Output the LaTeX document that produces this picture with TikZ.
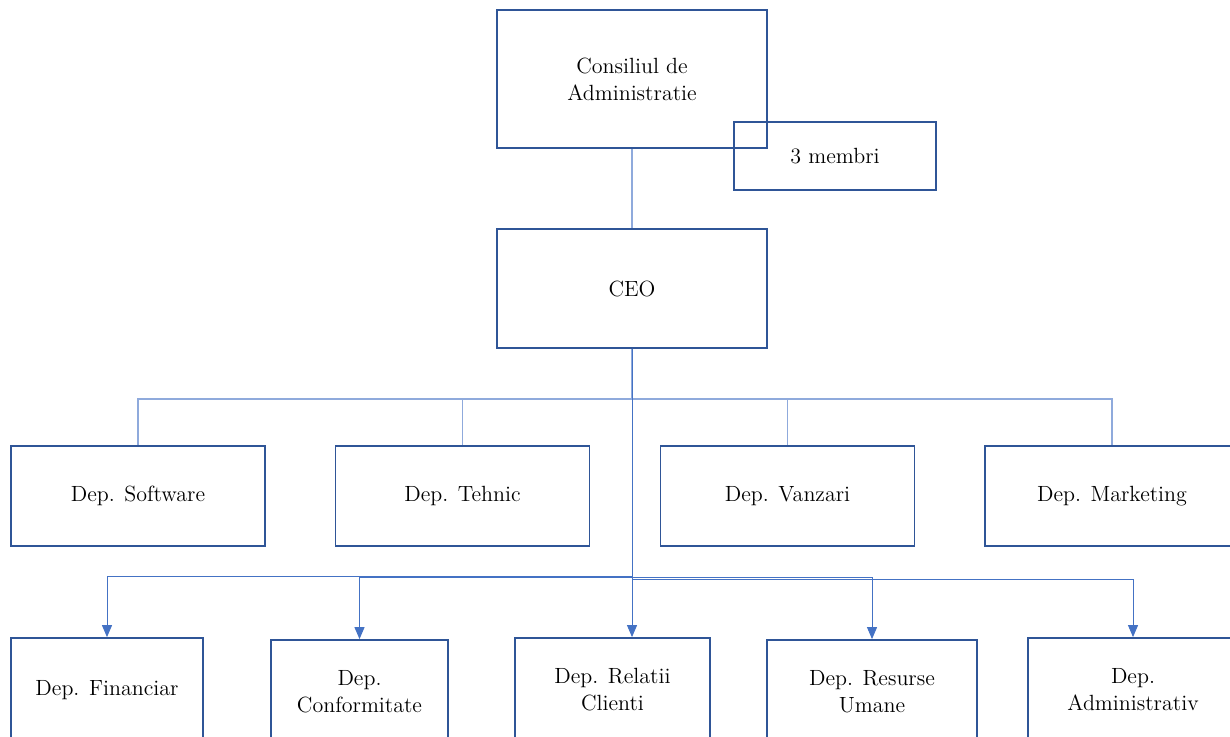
\documentclass[tikz,border=0pt]{standalone}
\usetikzlibrary{arrows.meta, positioning}
\definecolor{boxblue}{RGB}{47, 85, 151}
\definecolor{linkblue}{RGB}{68, 114, 196}
\definecolor{lightlink}{RGB}{143, 170, 220}

\begin{document}
\begin{tikzpicture}[x=0.5pt, y=-0.5pt,
  unit/.style={draw=boxblue, line width=0.9pt, align=center, inner sep=0pt, font=\fontsize{11}{13.5}\selectfont},
  link/.style={draw=lightlink, line width=0.6pt},
  feed/.style={draw=linkblue, line width=0.5pt, -{Triangle[width=5pt, length=6pt]}}]
  \clip (0, 0) rectangle (1230, 736);

  % Top management
  \node[unit, minimum width=135pt, minimum height=69pt] (board) at (632, 79) {Consiliul de\\Administratie};
  \node[unit, minimum width=101pt, minimum height=34pt] (members) at (835, 156) {3 membri};
  \node[unit, minimum width=135pt, minimum height=59.5pt] (ceo) at (632, 288.5) {CEO};

  % First row of departments
  \node[unit, minimum width=127pt, minimum height=50pt] (software) at (138, 496) {Dep. Software};
  \node[unit, minimum width=127pt, minimum height=50pt] (tehnic) at (462.5, 496) {Dep. Tehnic};
  \node[unit, minimum width=127pt, minimum height=50pt] (vanzari) at (787.5, 496) {Dep. Vanzari};
  \node[unit, minimum width=127pt, minimum height=50pt] (marketing) at (1112, 496) {Dep. Marketing};

  % Second row of departments
  \node[unit, minimum width=96pt, minimum height=52pt] (financiar) at (107, 690) {Dep. Financiar};
  \node[unit, minimum width=88.5pt, minimum height=52pt] (conform) at (359.5, 692) {Dep.\\Conformitate};
  \node[unit, minimum width=97.5pt, minimum height=52pt] (relatii) at (612.5, 690) {Dep. Relatii\\Clienti};
  \node[unit, minimum width=105pt, minimum height=52pt] (resurse) at (872, 692) {Dep. Resurse\\Umane};
  \node[unit, minimum width=105pt, minimum height=52pt] (admin) at (1133, 690) {Dep.\\Administrativ};

  % Links
  \draw[link] (board) -- (ceo);
  \draw[link] (ceo.south) -- ++(0, 50) -| (software.north);
  \draw[link] (ceo.south) -- ++(0, 50) -| (tehnic.north);
  \draw[link] (ceo.south) -- ++(0, 50) -| (vanzari.north);
  \draw[link] (ceo.south) -- ++(0, 50) -| (marketing.north);

  \draw[feed] (ceo.south) -- ++(0, 228) -| (financiar.north);
  \draw[feed] (ceo.south) -- ++(0, 229) -| (conform.north);
  \draw[feed] (ceo.south) -- (ceo.south |- relatii.north);
  \draw[feed] (ceo.south) -- ++(0, 229) -| (resurse.north);
  \draw[feed] (ceo.south) -- ++(0, 231) -| (admin.north);
\end{tikzpicture}
\end{document}
